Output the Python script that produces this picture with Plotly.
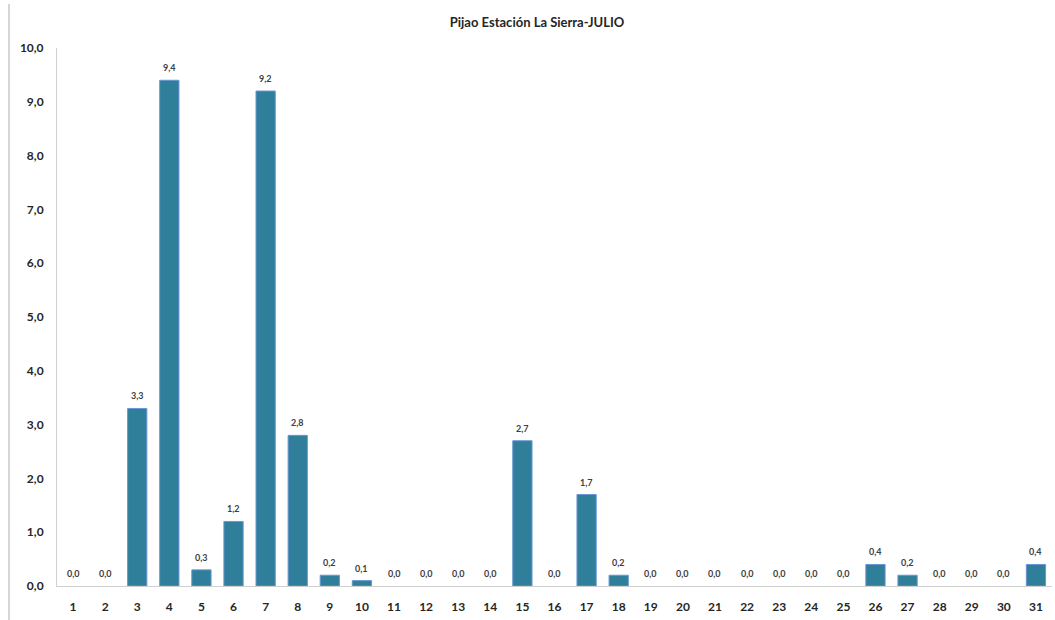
import plotly.graph_objects as go

days = [str(d) for d in range(1, 32)]
values = [0.0, 0.0, 3.3, 9.4, 0.3, 1.2, 9.2, 2.8, 0.2, 0.1,
          0.0, 0.0, 0.0, 0.0, 2.7, 0.0, 1.7, 0.2, 0.0, 0.0,
          0.0, 0.0, 0.0, 0.0, 0.0, 0.4, 0.2, 0.0, 0.0, 0.0, 0.4]
title_text = "Pijao Estación La Sierra-JULIO"
y_ticks = [0, 1, 2, 3, 4, 5, 6, 7, 8, 9, 10]

FONT = "Lato"
fig = go.Figure()
fig.add_trace(go.Bar(
    x=days, y=values,
    marker=dict(color="#2F7F9B",
                line=dict(color="#6A95D6", width=[1 if v > 0 else 0 for v in values])),
    width=0.6,
    hoverinfo="x+y",
))

annotations = []
for i, v in enumerate(values):
    annotations.append(dict(
        x=i, y=v, xref="x", yref="y",
        text=f"{v:.1f}".replace(".", ","),
        showarrow=False, yanchor="bottom", yshift=5,
        font=dict(family=FONT, size=9, color="#404040", weight="bold"),
    ))

fig.update_layout(
    width=1055, height=620,
    paper_bgcolor="white", plot_bgcolor="white",
    margin=dict(l=57, r=3, t=48, b=34),
    separators=",.",
    showlegend=False,
    title=dict(text=title_text, x=0.509, xanchor="center", y=1 - 22 / 620, yanchor="middle",
               font=dict(family=FONT, size=13, color="#262626", weight="bold")),
    annotations=annotations,
    xaxis=dict(
        type="category", showgrid=False, showline=True, linecolor="#D0D0D0", linewidth=1,
        ticks="", ticklabelstandoff=10,
        tickfont=dict(family=FONT, size=12, color="#262626", weight="bold"),
    ),
    yaxis=dict(
        range=[0, 10], tickvals=y_ticks, tickformat=".1f", showgrid=False,
        showline=True, linecolor="#D0D0D0", linewidth=1, zeroline=False,
        ticks="", ticklabelstandoff=10,
        tickfont=dict(family=FONT, size=12, color="#262626", weight="bold"),
    ),
    shapes=[dict(type="line", xref="paper", yref="paper",
                 x0=-48 / 995, x1=-48 / 995, y0=-34 / 538, y1=(538 + 44) / 538,
                 line=dict(color="#C8C8C8", width=1.5))],
)

fig.write_html("out.html", config={"displayModeBar": False},
               post_script="document.body.style.margin='0';document.body.style.overflow='hidden';")
